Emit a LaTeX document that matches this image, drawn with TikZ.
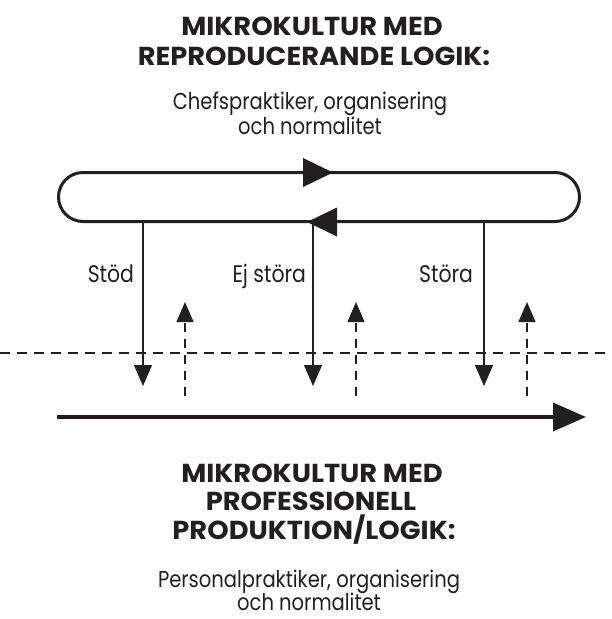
\documentclass[tikz,border=0pt]{standalone}
\usepackage{fontspec}
\setmainfont[FakeStretch=0.85]{Poppins}
\newfontfamily\titlefamily[FakeStretch=1.05]{Poppins}
\usetikzlibrary{arrows.meta}
\definecolor{ink}{RGB}{35,31,32}
\begin{document}
\begin{tikzpicture}[x=1pt,y=-1pt,
  every node/.style={inner sep=0pt,outer sep=0pt,text=ink},
  titletext/.style={font=\titlefamily\fontsize{26}{28.5}\selectfont\bfseries,align=center},
  subtext/.style={font=\fontsize{23}{25}\selectfont,align=center},
  labeltext/.style={font=\fontsize{24}{25}\selectfont,anchor=base east},
  solidarrow/.style={draw=ink,line width=1.2pt,-{Triangle[length=21pt,width=18pt]}},
  dasharrow/.style={draw=ink,line width=1.2pt,dash pattern=on 9pt off 7pt,-{Triangle[length=20pt,width=17pt]}},
  looppath/.style={draw=ink,line width=3pt,rounded corners=24.5pt},
]
\useasboundingbox (0,0) rectangle (612,619);
% titles
\node[titletext,anchor=base] (t1) at (312,35) {MIKROKULTUR MED};
\node[titletext,anchor=base] (t2) at (314,65) {REPRODUCERANDE LOGIK:};
\node[subtext,anchor=base] (s1) at (310,109) {Chefspraktiker, organisering};
\node[subtext,anchor=base] (s2) at (310,134) {och normalitet};
% loop
\node[looppath,minimum width=521pt,minimum height=49pt] (loop) at (319,197) {};
\fill[ink] (303,158) -- (333,172.5) -- (303,187) -- cycle;
\fill[ink] (337,207.5) -- (307,222) -- (337,236.5) -- cycle;
% labels
\node[labeltext] (l1) at (134,282) {Stöd};
\node[labeltext] (l2) at (306,282) {Ej störa};
\node[labeltext] (l3) at (473,282) {Störa};
% coordinates
\coordinate (a1s) at (143,222);
\coordinate (a1e) at (143,386);
\coordinate (a2s) at (313,222);
\coordinate (a2e) at (313,386);
\coordinate (a3s) at (484,222);
\coordinate (a3e) at (484,386);
\coordinate (d1s) at (185,396);
\coordinate (d1e) at (185,302);
\coordinate (d2s) at (356,396);
\coordinate (d2e) at (356,302);
\coordinate (d3s) at (527,396);
\coordinate (d3e) at (527,302);
\coordinate (hl) at (0,353);
\coordinate (hr) at (612,353);
\coordinate (bs) at (57,417);
\coordinate (be) at (586,417);
\draw[solidarrow] (a1s) -- (a1e);
\draw[solidarrow] (a2s) -- (a2e);
\draw[solidarrow] (a3s) -- (a3e);
\draw[dasharrow] (d1s) -- (d1e);
\draw[dasharrow] (d2s) -- (d2e);
\draw[dasharrow] (d3s) -- (d3e);
\draw[draw=ink,line width=1.7pt,dash pattern=on 10pt off 7pt] (hl) -- (hr);
\draw[draw=ink,line width=3.5pt,-{Triangle[length=33pt,width=28pt]}] (bs) -- (be);
% bottom titles
\node[titletext,anchor=base] (b1) at (312,482) {MIKROKULTUR MED};
\node[titletext,anchor=base] (b2) at (311,510) {PROFESSIONELL};
\node[titletext,anchor=base] (b3) at (314,539) {PRODUKTION/LOGIK:};
\node[subtext,anchor=base] (p1) at (309,587) {Personalpraktiker, organisering};
\node[subtext,anchor=base] (p2) at (309,610) {och normalitet};
\end{tikzpicture}
\end{document}
